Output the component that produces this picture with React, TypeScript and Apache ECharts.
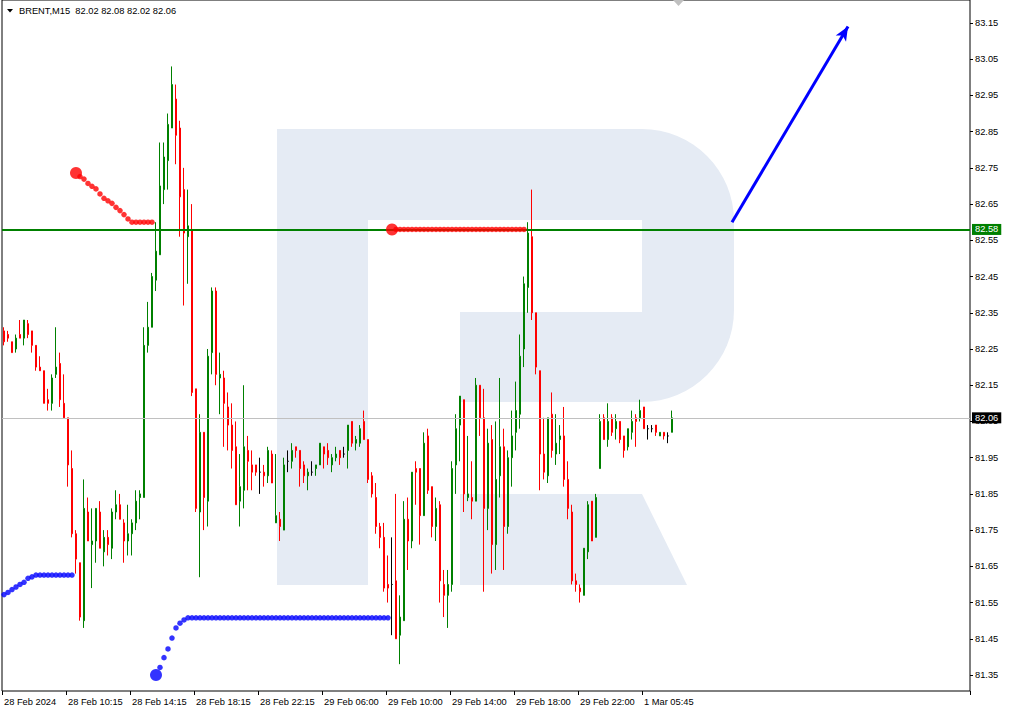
import React, { useEffect, useRef } from "react";
import * as echarts from "echarts";

// ---- axis texts ----
const tickLabels = [
  "28 Feb 2024", "28 Feb 10:15", "28 Feb 14:15", "28 Feb 18:15", "28 Feb 22:15",
  "29 Feb 06:00", "29 Feb 10:00", "29 Feb 14:00", "29 Feb 18:00", "29 Feb 22:00", "1 Mar 05:45",
];
const BARS_PER_LABEL = 16;
const TOTAL_SLOTS = 242;
const priceTicks = [
  83.15, 83.05, 82.95, 82.85, 82.75, 82.65, 82.55, 82.45, 82.35, 82.25,
  82.15, 82.05, 81.95, 81.85, 81.75, 81.65, 81.55, 81.45, 81.35,
];
const title = "BRENT,M15  82.02 82.08 82.02 82.06";

// ---- candles: [open, high, low, close] ----
const ohlc: number[][] = [
  [82.30, 82.31, 82.26, 82.27], [82.29, 82.30, 82.27, 82.28], [82.27, 82.27, 82.24, 82.24], [82.25, 82.29, 82.24, 82.28],
  [82.29, 82.33, 82.28, 82.28], [82.28, 82.33, 82.26, 82.33], [82.32, 82.33, 82.28, 82.29], [82.30, 82.30, 82.24, 82.26],
  [82.26, 82.26, 82.19, 82.20], [82.20, 82.23, 82.19, 82.19], [82.19, 82.19, 82.10, 82.10], [82.11, 82.14, 82.08, 82.10],
  [82.10, 82.18, 82.08, 82.17], [82.18, 82.31, 82.17, 82.20], [82.21, 82.24, 82.09, 82.11], [82.10, 82.18, 82.06, 82.06],
  [82.06, 82.06, 81.87, 81.93], [81.92, 81.97, 81.73, 81.74], [81.74, 81.75, 81.63, 81.67], [81.66, 81.66, 81.50, 81.51],
  [81.50, 81.89, 81.48, 81.81], [81.80, 81.84, 81.72, 81.72], [81.71, 81.81, 81.59, 81.72], [81.72, 81.81, 81.66, 81.81],
  [81.80, 81.83, 81.70, 81.70], [81.69, 81.75, 81.65, 81.73], [81.73, 81.75, 81.68, 81.71], [81.70, 81.81, 81.67, 81.80],
  [81.80, 81.86, 81.78, 81.82], [81.82, 81.85, 81.78, 81.78], [81.77, 81.78, 81.66, 81.72], [81.72, 81.82, 81.68, 81.74],
  [81.74, 81.78, 81.68, 81.77], [81.77, 81.86, 81.75, 81.83], [81.84, 81.86, 81.78, 81.85], [81.84, 82.31, 81.84, 82.26],
  [82.26, 82.38, 82.24, 82.31], [82.31, 82.46, 82.31, 82.45], [82.44, 82.60, 82.41, 82.52], [82.51, 82.82, 82.51, 82.70],
  [82.69, 82.82, 82.65, 82.78], [82.77, 82.90, 82.69, 82.87], [82.86, 83.03, 82.86, 82.98], [82.94, 82.98, 82.76, 82.84],
  [82.86, 82.88, 82.56, 82.67], [82.69, 82.75, 82.37, 82.57], [82.56, 82.69, 82.43, 82.59], [82.58, 82.65, 82.12, 82.13],
  [82.14, 82.14, 81.80, 81.81], [81.80, 82.07, 81.62, 82.02], [82.02, 82.02, 81.75, 81.84], [81.83, 82.25, 81.76, 82.23],
  [82.24, 82.42, 82.18, 82.41], [82.41, 82.42, 82.15, 82.18], [82.17, 82.24, 82.07, 82.18], [82.17, 82.19, 81.98, 82.10],
  [82.09, 82.13, 81.97, 82.04], [82.04, 82.10, 81.92, 81.97], [81.98, 82.05, 81.82, 81.82], [81.83, 81.96, 81.76, 81.87],
  [81.86, 82.15, 81.81, 81.98], [81.97, 82.01, 81.86, 81.94], [81.93, 81.97, 81.86, 81.91], [81.93, 81.93, 81.90, 81.91],
  [81.91, 81.95, 81.85, 81.91], [81.91, 81.93, 81.87, 81.90], [81.90, 81.98, 81.88, 81.97], [81.96, 81.97, 81.88, 81.88],
  [81.77, 81.96, 81.77, 81.79], [81.78, 81.80, 81.72, 81.76], [81.75, 81.95, 81.75, 81.93], [81.94, 81.97, 81.91, 81.94],
  [81.94, 81.99, 81.92, 81.97], [81.98, 81.98, 81.95, 81.97], [81.97, 81.97, 81.87, 81.92], [81.93, 81.94, 81.88, 81.90],
  [81.90, 81.92, 81.86, 81.91], [81.91, 81.94, 81.90, 81.91], [81.92, 81.93, 81.90, 81.93], [81.93, 81.99, 81.93, 81.99],
  [81.98, 81.98, 81.92, 81.96], [81.97, 81.99, 81.93, 81.95], [81.93, 81.96, 81.91, 81.95], [81.95, 81.98, 81.94, 81.96],
  [81.97, 81.97, 81.93, 81.95], [81.96, 81.98, 81.95, 81.96], [81.97, 82.04, 81.92, 82.04], [82.05, 82.05, 81.98, 81.99],
  [81.99, 82.01, 81.97, 82.00], [81.99, 82.04, 81.98, 82.03], [82.05, 82.08, 82.00, 82.00], [82.00, 82.00, 81.88, 81.89],
  [81.90, 81.91, 81.84, 81.85], [81.84, 81.88, 81.74, 81.76], [81.76, 81.77, 81.70, 81.73], [81.73, 81.77, 81.58, 81.59],
  [81.60, 81.68, 81.55, 81.59], [81.60, 81.73, 81.46, 81.60], [81.61, 81.85, 81.45, 81.45], [81.46, 81.57, 81.38, 81.51],
  [81.50, 81.83, 81.50, 81.78], [81.78, 81.84, 81.64, 81.72], [81.72, 81.91, 81.70, 81.91], [81.92, 81.94, 81.82, 81.91],
  [81.92, 81.92, 81.71, 81.79], [81.79, 82.02, 81.79, 81.99], [82.01, 82.03, 81.85, 81.86], [81.87, 81.87, 81.73, 81.76],
  [81.76, 81.84, 81.72, 81.81], [81.82, 81.83, 81.55, 81.61], [81.60, 81.64, 81.51, 81.57], [81.57, 81.64, 81.48, 81.60],
  [81.60, 81.94, 81.58, 81.92], [81.93, 82.07, 81.85, 82.03], [82.04, 82.12, 81.94, 82.12], [82.11, 82.11, 81.80, 81.85],
  [81.84, 82.01, 81.83, 81.85], [81.84, 81.94, 81.78, 81.83], [81.83, 82.17, 81.83, 82.15], [82.15, 82.15, 82.01, 82.06],
  [82.06, 82.14, 81.58, 81.81], [81.81, 82.03, 81.75, 81.99], [82.00, 82.04, 81.63, 81.71], [81.71, 82.05, 81.64, 81.89],
  [81.90, 82.17, 81.84, 81.98], [81.98, 82.03, 81.64, 81.76], [81.76, 81.97, 81.74, 81.95], [81.95, 82.08, 81.87, 82.01],
  [82.02, 82.16, 81.97, 82.08], [82.07, 82.29, 82.03, 82.23], [82.25, 82.45, 82.20, 82.43], [82.42, 82.60, 82.35, 82.57],
  [82.56, 82.69, 82.33, 82.35], [82.35, 82.35, 82.18, 82.20], [82.19, 82.19, 81.86, 81.96], [81.96, 82.06, 81.89, 81.91],
  [81.90, 82.06, 81.88, 82.06], [82.07, 82.13, 81.95, 81.97], [81.96, 82.07, 81.93, 81.99], [82.00, 82.04, 81.96, 82.01],
  [82.01, 82.09, 81.87, 81.89], [81.89, 81.94, 81.78, 81.81], [81.80, 81.82, 81.60, 81.61], [81.61, 81.63, 81.58, 81.60],
  [81.59, 81.60, 81.55, 81.58], [81.57, 81.70, 81.57, 81.70], [81.69, 81.83, 81.67, 81.82], [81.83, 81.83, 81.72, 81.72],
  [81.73, 81.85, 81.73, 81.84], [81.92, 82.07, 81.92, 82.05], [82.06, 82.07, 82.00, 82.00], [82.00, 82.10, 81.98, 82.05],
  [82.06, 82.07, 82.01, 82.02], [82.03, 82.07, 82.00, 82.05], [82.05, 82.05, 81.99, 82.00], [82.01, 82.01, 81.95, 81.97],
  [81.98, 82.03, 81.97, 82.03], [82.02, 82.08, 82.00, 82.05], [82.06, 82.07, 81.98, 82.05], [82.06, 82.11, 82.05, 82.08],
  [82.09, 82.09, 82.03, 82.03], [82.03, 82.04, 82.00, 82.03], [82.03, 82.04, 82.02, 82.03], [82.04, 82.04, 82.01, 82.02],
  [82.01, 82.02, 82.01, 82.02], [82.02, 82.02, 82.00, 82.01], [82.01, 82.02, 81.99, 82.01], [82.02, 82.08, 82.02, 82.06],
];

// ---- trailing stop indicator (dots) ----
const blueStopAStart = 0;
const blueStopA = [
  81.572, 81.578, 81.586, 81.593, 81.6, 81.606, 81.617, 81.621, 81.626,
  81.626, 81.626, 81.626, 81.626, 81.626, 81.626, 81.626, 81.626, 81.626,
];
const redStopAStart = 18;
const redStopA = [
  82.736, 82.726, 82.719, 82.707, 82.699, 82.692, 82.678, 82.666, 82.659, 82.652,
  82.641, 82.632, 82.621, 82.609, 82.6, 82.6, 82.6, 82.6, 82.6, 82.6,
];
const blueStopBStart = 38;
const blueStopB = [
  81.35, 81.371, 81.398, 81.422, 81.452, 81.48, 81.493, 81.502,
  81.508, 81.508, 81.508, 81.508, 81.508, 81.508, 81.508, 81.508, 81.508, 81.508,
  81.508, 81.508, 81.508, 81.508, 81.508, 81.508, 81.508, 81.508, 81.508, 81.508,
  81.508, 81.508, 81.508, 81.508, 81.508, 81.508, 81.508, 81.508, 81.508, 81.508,
  81.508, 81.508, 81.508, 81.508, 81.508, 81.508, 81.508, 81.508, 81.508, 81.508,
  81.508, 81.508, 81.508, 81.508, 81.508, 81.508, 81.508, 81.508, 81.508, 81.508,
  81.508,
];
const redStopBStart = 97;
const redStopB = [
  82.58, 82.58, 82.58, 82.58, 82.58, 82.58, 82.58, 82.58, 82.58, 82.58,
  82.58, 82.58, 82.58, 82.58, 82.58, 82.58, 82.58, 82.58, 82.58, 82.58,
  82.58, 82.58, 82.58, 82.58, 82.58, 82.58, 82.58, 82.58, 82.58, 82.58,
  82.58, 82.58, 82.58, 82.58,
];

// ---- horizontal levels & arrow ----
const levelLine = 82.58;
const lastPrice = 82.06;
const arrowFrom = [182, 82.6];
const arrowTo = [211, 83.14];

const FONT = "'Liberation Sans', Arial, sans-serif";
const LOGO = "#e5ebf4";

function stopDots(values: number[], start: number, withStartDot: boolean) {
  return values.map((v, i) => {
    const item: any = { value: [start + i, v] };
    if (i === 0 && withStartDot) item.symbolSize = 12;
    return item;
  });
}

export default function App() {
  const ref = useRef<HTMLDivElement>(null);
  useEffect(() => {
    if (!ref.current) return;
    const chart = echarts.init(ref.current, undefined, { renderer: "svg" });
    const slots = Array.from({ length: TOTAL_SLOTS }, (_, i) => "b" + i);
    const showTick = (i: number) => i % BARS_PER_LABEL === 0 && i / BARS_PER_LABEL < tickLabels.length;
    const candles = ohlc.map(([o, h, l, c]) => [o, c, l, h]);

    chart.setOption({
      animation: false,
      grid: { left: 2, top: -1, width: TOTAL_SLOTS * 4, height: 692, show: true, borderColor: "#000", borderWidth: 1 },
      xAxis: {
        type: "category",
        data: slots,
        boundaryGap: true,
        axisLine: { show: false },
        axisTick: { show: true, interval: (i: number) => showTick(i), length: 4, lineStyle: { color: "#000" } },
        axisLabel: {
          interval: (i: number) => showTick(i),
          formatter: (_v: string, i: number) => tickLabels[i / BARS_PER_LABEL] ?? "",
          align: "left",
          margin: 6,
          fontSize: 9.3,
          fontFamily: FONT,
          color: "#000",
        },
        splitLine: { show: false },
      },
      yAxis: {
        type: "value",
        position: "right",
        min: 81.3059,
        max: 83.2134,
        axisLine: { show: false },
        axisTick: { show: true, length: 3, customValues: priceTicks, lineStyle: { color: "#000" } },
        axisLabel: {
          customValues: priceTicks,
          formatter: (v: number) => v.toFixed(2),
          margin: 5,
          fontSize: 9.3,
          fontFamily: FONT,
          color: "#000",
        },
        splitLine: { show: false },
      },
      graphic: [
        { type: "rect", z: 0, shape: { x: 277, y: 129, width: 457, height: 273, r: [0, 92, 92, 0] }, style: { fill: LOGO } },
        { type: "rect", z: 0, shape: { x: 368, y: 220, width: 274, height: 92 }, style: { fill: "#fff" } },
        { type: "rect", z: 0, shape: { x: 368, y: 312, width: 92, height: 90 }, style: { fill: "#fff" } },
        { type: "rect", z: 0, shape: { x: 277, y: 402, width: 91, height: 183 }, style: { fill: LOGO } },
        { type: "polygon", z: 0, shape: { points: [[460, 494], [642, 494], [687, 585], [460, 585]] }, style: { fill: LOGO } },
        { type: "polygon", z: 10, shape: { points: [[7, 9], [13, 9], [10, 12.5]] }, style: { fill: "#000" } },
        { type: "polygon", z: 10, shape: { points: [[673, 0], [684, 0], [678.5, 6]] }, style: { fill: "#c0c0c0" } },
        {
          type: "text", z: 10, x: 19, y: 11,
          style: { text: title, fontSize: 9.3, fontFamily: FONT, fill: "#000", verticalAlign: "middle", align: "left" },
        },
      ],
      series: [
        {
          type: "candlestick",
          data: candles,
          barWidth: 2,
          itemStyle: {
            color: "#008000", color0: "#ff0000",
            borderColor: "#008000", borderColor0: "#ff0000", borderColorDoji: "#000000",
            borderWidth: 1,
          },
          markLine: {
            silent: true,
            symbol: ["none", "none"],
            z: 5,
            data: [
              {
                yAxis: lastPrice,
                lineStyle: { color: "#c0c0c0", width: 1, type: "solid" },
                label: {
                  show: true, position: "end", distance: 2, formatter: () => lastPrice.toFixed(2),
                  backgroundColor: "#000", color: "#fff", padding: [1, 3, 0, 3], lineHeight: 10,
                  fontSize: 9.3, fontFamily: FONT,
                },
              },
              {
                yAxis: levelLine,
                lineStyle: { color: "#008000", width: 2, type: "solid" },
                label: {
                  show: true, position: "end", distance: 2, formatter: () => levelLine.toFixed(2),
                  backgroundColor: "#008000", color: "#fff", padding: [1, 3, 0, 3], lineHeight: 10,
                  fontSize: 9.3, fontFamily: FONT,
                },
              },
              [
                { coord: arrowFrom, symbol: "none" },
                {
                  coord: arrowTo, symbol: "arrow", symbolSize: [9, 14],
                  lineStyle: { color: "#0000ff", width: 3, type: "solid" },
                  label: { show: false },
                },
              ],
            ],
          },
        },
        {
          type: "scatter", z: 6, symbol: "circle", symbolSize: 5.5,
          itemStyle: { color: "#0000ff" },
          data: [...stopDots(blueStopA, blueStopAStart, false), ...stopDots(blueStopB, blueStopBStart, true)],
        },
        {
          type: "scatter", z: 6, symbol: "circle", symbolSize: 5.5,
          itemStyle: { color: "#ff0000" },
          data: [...stopDots(redStopA, redStopAStart, true), ...stopDots(redStopB, redStopBStart, true)],
        },
      ],
    });
    return () => chart.dispose();
  }, []);

  return (
    <div
      ref={ref}
      style={{ position: "absolute", left: 0, top: 0, width: 1010, height: 715, background: "#fff" }}
    />
  );
}
